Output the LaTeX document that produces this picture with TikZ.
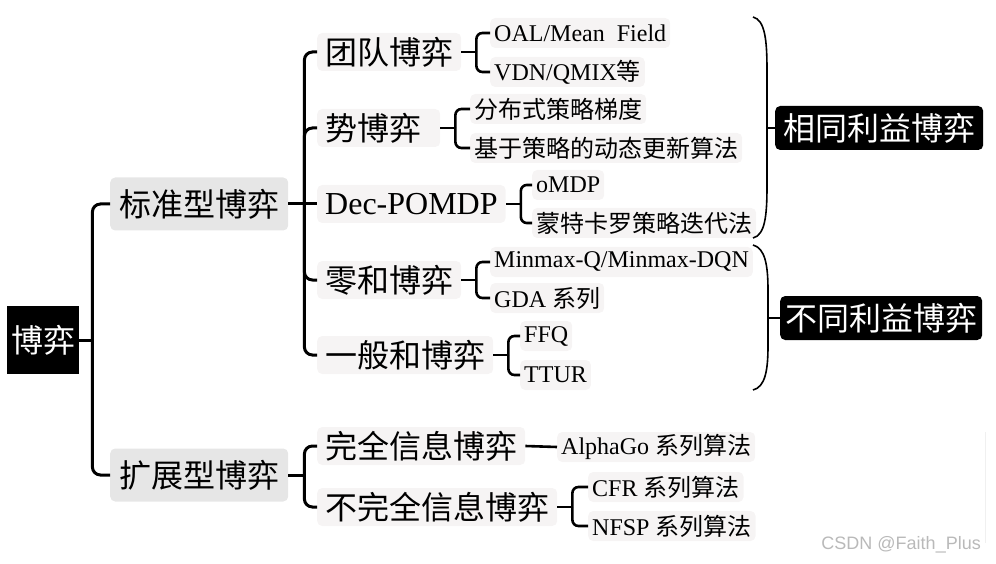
\documentclass[tikz,border=0pt]{standalone}
\usepackage{fontspec}
\setmainfont{Liberation Serif}
\newfontfamily\cjk{Noto Sans CJK SC}
\newfontfamily\wmfont{Liberation Sans}
\usetikzlibrary{calc}
\definecolor{lvA}{HTML}{E6E6E6}
\definecolor{lvB}{HTML}{F6F4F4}
\tikzset{
 boxbase/.style={anchor=west, rounded corners=5pt, inner ysep=0pt},
 rootbox/.style={anchor=west, fill=black, text=white, font=\fontsize{32}{36}\selectfont\cjk, minimum width=72pt, minimum height=68pt, inner sep=0pt},
 lvone/.style={boxbase, fill=lvA, font=\fontsize{32}{36}\selectfont, minimum height=53pt, inner xsep=9pt},
 lvtwo/.style={boxbase, fill=lvB, font=\fontsize{32}{36}\selectfont, minimum height=38pt, inner xsep=8pt},
 lvthree/.style={boxbase, fill=lvB, font=\fontsize{24}{28}\selectfont, minimum height=30pt, inner xsep=4pt},
 catbox/.style={anchor=west, fill=black, text=white, rounded corners=5pt, font=\fontsize{32}{36}\selectfont\cjk, minimum height=44pt, inner ysep=0pt},
 conn/.style={line width=3pt, rounded corners=8pt},
 brk/.style={line width=2.6pt, rounded corners=6pt},
 bracestyle/.style={line width=1.6pt},
}
\begin{document}
\begin{tikzpicture}[x=1pt,y=-1pt]
\useasboundingbox (0,0) rectangle (996,564);

% nodes
\node[rootbox] (root) at (7,340) {博弈};
\node[lvone] (std) at (110,204) {\cjk 标准型博弈};
\node[lvone] (ext) at (110,475) {\cjk 扩展型博弈};

\node[lvtwo] (team) at (317,52) {\cjk 团队博弈};
\node[lvtwo, text width=107pt, align=left] (pot) at (317,128) {\cjk 势博弈};
\node[lvtwo] (dec) at (317,204) {Dec-POMDP};
\node[lvtwo] (zero) at (317,280) {\cjk 零和博弈};
\node[lvtwo] (gen) at (317,355) {\cjk 一般和博弈};
\node[lvtwo] (perf) at (317,446) {\cjk 完全信息博弈};
\node[lvtwo] (imp) at (317,507) {\cjk 不完全信息博弈};

\node[lvthree] (oal) at (490,33) {OAL/Mean\ \ Field};
\node[lvthree] (vdn) at (490,72) {VDN/QMIX{\cjk 等}};
\node[lvthree] (dist) at (470,109) {\cjk 分布式策略梯度};
\node[lvthree] (upd) at (470,148) {\cjk 基于策略的动态更新算法};
\node[lvthree] (omdp) at (532,185) {oMDP};
\node[lvthree] (mc) at (532,223) {\cjk 蒙特卡罗策略迭代法};
\node[lvthree] (mm) at (490,262) {Minmax-Q/Minmax-DQN};
\node[lvthree] (gda) at (490,298) {GDA {\cjk 系列}};
\node[lvthree] (ffq) at (520,336) {FFQ};
\node[lvthree] (ttur) at (520,375) {TTUR};
\node[lvthree] (alpha) at (557,447) {AlphaGo {\cjk 系列算法}};
\node[lvthree] (cfr) at (588,487) {CFR {\cjk 系列算法}};
\node[lvthree] (nfsp) at (588,526) {NFSP {\cjk 系列算法}};

\node[catbox, inner xsep=8pt] (same) at (775,128) {相同利益博弈};
\node[catbox, inner xsep=5pt] (diff) at (780,318) {不同利益博弈};

% level 0 -> 1
\coordinate (j0) at ($(root.east)+(13,0)$);
\draw[conn] (root.east) -- (j0);
\draw[conn] (j0) |- (std.west);
\draw[conn] (j0) |- (ext.west);

% level 1 -> 2
\coordinate (j1) at ($(std.east)+(16,0)$);
\draw[conn] (std.east) -- (j1);
\foreach \c in {team,pot,zero,gen} \draw[conn] (j1) |- (\c.west);
\draw[conn] (j1) -- (dec.west);

\coordinate (j2) at ($(ext.east)+(16,0)$);
\draw[conn] (ext.east) -- (j2);
\draw[conn] (j2) |- (perf.west);
\draw[conn] (j2) |- (imp.west);

% level 2 -> 3
\coordinate (jt) at ($(team.east)+(15,0)$);
\draw[brk] (team.east) -- (jt);
\draw[brk] (jt) |- (oal.west);
\draw[brk] (jt) |- (vdn.west);

\coordinate (jp) at ($(pot.east)+(15,0)$);
\draw[brk] (pot.east) -- (jp);
\draw[brk] (jp) |- (dist.west);
\draw[brk] (jp) |- (upd.west);

\coordinate (jd) at ($(dec.east)+(15,0)$);
\draw[brk] (dec.east) -- (jd);
\draw[brk] (jd) |- (omdp.west);
\draw[brk] (jd) |- (mc.west);

\coordinate (jz) at ($(zero.east)+(15,0)$);
\draw[brk] (zero.east) -- (jz);
\draw[brk] (jz) |- (mm.west);
\draw[brk] (jz) |- (gda.west);

\coordinate (jg) at ($(gen.east)+(15,0)$);
\draw[brk] (gen.east) -- (jg);
\draw[brk] (jg) |- (ffq.west);
\draw[brk] (jg) |- (ttur.west);

\draw[brk] (perf.east) -- (alpha.west);

\coordinate (ji) at ($(imp.east)+(15,0)$);
\draw[brk] (imp.east) -- (ji);
\draw[brk] (ji) |- (cfr.west);
\draw[brk] (ji) |- (nfsp.west);

% big braces
\coordinate (b1t) at (753,17);
\coordinate (b1b) at (753,238);
\coordinate (b1m) at (767,128);
\draw[bracestyle] (b1t) .. controls (765,20) and (767,40) .. (767,70) -- (767,186) .. controls (767,216) and (765,235) .. (b1b);
\draw[bracestyle] (b1m) -- (same.west);

\coordinate (b2t) at (753,245);
\coordinate (b2b) at (753,390);
\coordinate (b2m) at (768,318);
\draw[bracestyle] (b2t) .. controls (765,248) and (768,265) .. (768,290) -- (768,346) .. controls (768,371) and (765,387) .. (b2b);
\draw[bracestyle] (b2m) -- (diff.west);

% watermark
\draw[gray!12, line width=1pt] (985,432) -- (985,543);
\node[font=\fontsize{18}{20}\selectfont\wmfont, text=gray!55, anchor=east, inner sep=0pt] (wm) at (981,545) {CSDN @Faith\_Plus};
\end{tikzpicture}
\end{document}
